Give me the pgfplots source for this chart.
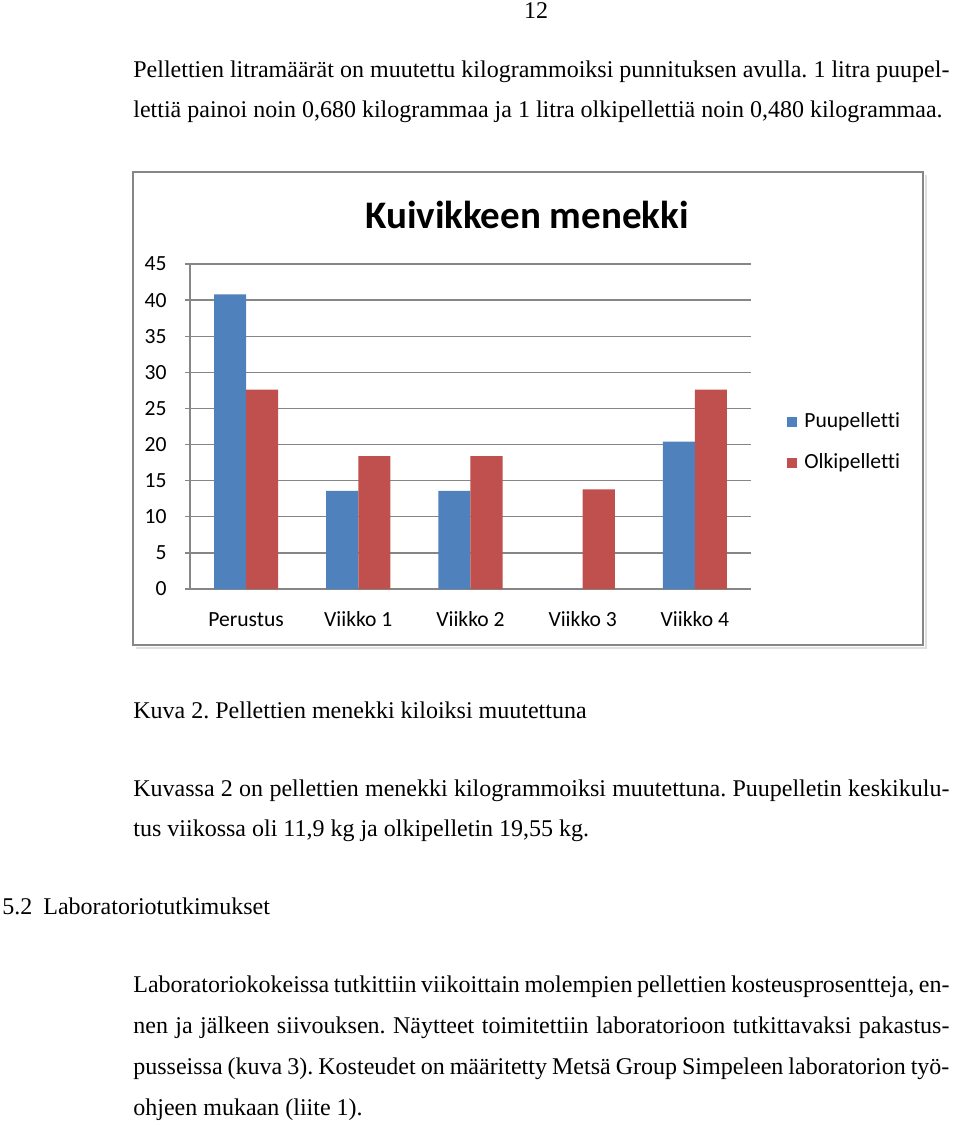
\documentclass[border=0pt]{standalone}
\usepackage{pgfplots}
\pgfplotsset{compat=1.18}
\usepackage{fontspec}
\setmainfont{Liberation Serif}
\newfontfamily\calibri[Ligatures=CommonOff]{Carlito}

\definecolor{puu}{RGB}{79,129,189}
\definecolor{olki}{RGB}{192,80,77}
\definecolor{gridgray}{RGB}{134,134,134}

% one justified line of body text
\newcommand\jline[1]{\makebox[408pt][s]{#1}}

\begin{document}
\frenchspacing
\begin{tikzpicture}[x=0.5pt,y=0.5pt,
    txt/.style={anchor=base west, inner sep=0pt, font=\fontsize{12}{14}\selectfont}]
\fill[white] (0,0) rectangle (960,-1125);
\useasboundingbox (0,0) rectangle (960,-1125);

% page text
\node[txt, anchor=base] at (536,-18) {12};
\node[txt] at (133,-77) {\jline{Pellettien litramäärät on muutettu kilogrammoiksi punnituksen avulla. 1 litra puupel-}};
\node[txt] at (133,-117) {lettiä painoi noin 0,680 kilogrammaa ja 1 litra olkipellettiä noin 0,480 kilogrammaa.};
\node[txt] at (133,-718) {Kuva 2. Pellettien menekki kiloiksi muutettuna};
\node[txt] at (133,-796) {\jline{Kuvassa 2 on pellettien menekki kilogrammoiksi muutettuna. Puupelletin keskikulu-}};
\node[txt] at (133,-836) {tus viikossa oli 11,9 kg ja olkipelletin 19,55 kg.};
\node[txt] at (2,-914) {5.2};
\node[txt] at (43,-914) {Laboratoriotutkimukset};
\node[txt] at (133,-992) {\jline{Laboratoriokokeissa tutkittiin viikoittain molempien pellettien kosteusprosentteja, en-}};
\node[txt] at (133,-1033) {\jline{nen ja jälkeen siivouksen. Näytteet toimitettiin laboratorioon tutkittavaksi pakastus-}};
\node[txt] at (133,-1074) {\jline{pusseissa (kuva 3). Kosteudet on määritetty Metsä Group Simpeleen laboratorion työ-}};
\node[txt] at (133,-1115) {ohjeen mukaan (liite 1).};

% chart frame
\draw[gray!25, line width=1pt] (136,-648) -- (926,-648) -- (926,-175);
\draw[gridgray, line width=1pt] (133,-172) rectangle (923,-645);
\node[anchor=base, inner sep=0pt, font=\calibri\bfseries\fontsize{19.5}{23}\selectfont] at (527,-228) {Kuivikkeen menekki};

\begin{axis}[
    at={(95pt,-294.5pt)}, anchor=south west,
    scale only axis, width=280.5pt, height=162.5pt,
    ybar, bar width=0.2857,
    xmin=-0.5, xmax=4.5, ymin=0, ymax=45,
    xtick={0,...,4},
    xticklabels={Perustus, Viikko 1, Viikko 2, Viikko 3, Viikko 4},
    ytick={0,5,...,45},
    axis lines*=left,
    axis line style={-, draw=gridgray, line width=0.7pt},
    ymajorgrids, grid style={gridgray, line width=0.7pt},
    tick align=outside, major tick length=2.5pt,
    ytick style={gridgray, line width=0.7pt}, xtick style={draw=none},
    tick label style={font=\calibri\fontsize{10.8}{13}\selectfont},
    /pgf/number format/assume math mode=true,
    xticklabel style={anchor=base, yshift=-16pt},
    yticklabel style={anchor=east, inner sep=0pt, xshift=-9pt},
    legend style={at={(1,0.5)}, anchor=west, xshift=18pt, yshift=-8pt,
        draw=none, fill=none, inner sep=0pt, row sep=10pt,
        font=\calibri\fontsize{10.8}{13}\selectfont,
        nodes={inner sep=0pt, text height=8pt, text depth=2.5pt}},
    legend cell align=left,
    legend image code/.code={\fill[#1] (0pt,-2.5pt) rectangle (5pt,2.5pt);
        \path (8.5pt,0pt);},
]
\addplot[fill=puu, draw=none, bar shift=-0.14285] coordinates {(0,40.8) (1,13.6) (2,13.6) (3,0) (4,20.4)};
\addplot[fill=olki, draw=none, bar shift=0.14285] coordinates {(0,27.6) (1,18.4) (2,18.4) (3,13.8) (4,27.6)};
\legend{Puupelletti, Olkipelletti}
\end{axis}
\end{tikzpicture}
\end{document}
